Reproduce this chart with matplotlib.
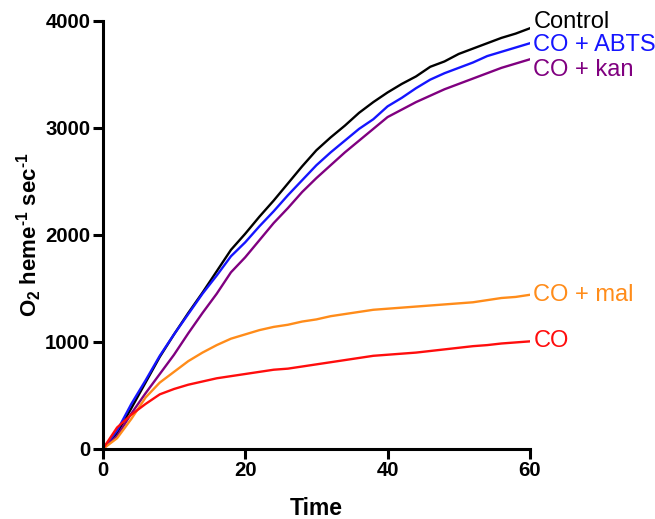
import numpy as np
import matplotlib.pyplot as plt

plt.rcParams['font.family'] = ['Liberation Sans', 'DejaVu Sans']
plt.rcParams['mathtext.fontset'] = 'custom'
plt.rcParams['mathtext.rm'] = 'Liberation Sans:bold'
plt.rcParams['mathtext.bf'] = 'Liberation Sans:bold'

# data: time points every 2 units
time = np.arange(0, 62, 2)
control = [0, 150, 380, 620, 860, 1070, 1270, 1460, 1660, 1860, 2010, 2170,
           2320, 2480, 2640, 2790, 2910, 3020, 3140, 3240, 3330, 3410, 3480,
           3570, 3620, 3690, 3740, 3790, 3840, 3880, 3930]
co_abts = [0, 170, 420, 640, 870, 1070, 1260, 1450, 1620, 1800, 1930, 2080,
           2220, 2370, 2510, 2650, 2770, 2880, 2990, 3080, 3200, 3280, 3370,
           3450, 3510, 3560, 3610, 3670, 3710, 3750, 3790]
co_kan = [0, 120, 330, 520, 700, 880, 1080, 1270, 1450, 1650, 1790, 1950,
          2110, 2250, 2400, 2530, 2650, 2770, 2880, 2990, 3100, 3170, 3240,
          3300, 3360, 3410, 3460, 3510, 3560, 3600, 3640]
co_mal = [0, 100, 280, 480, 620, 720, 820, 900, 970, 1030, 1070, 1110, 1140,
          1160, 1190, 1210, 1240, 1260, 1280, 1300, 1310, 1320, 1330, 1340,
          1350, 1360, 1370, 1390, 1410, 1420, 1440]
co = [0, 200, 320, 420, 510, 560, 600, 630, 660, 680, 700, 720, 740, 750, 770,
      790, 810, 830, 850, 870, 880, 890, 900, 915, 930, 945, 960, 970, 985,
      995, 1005]

series = [
    ('Control', control, 'black', 60),
    ('CO + ABTS', co_abts, '#1515ff', -20),
    ('CO + kan', co_kan, '#800080', -100),
    ('CO + mal', co_mal, '#ff8c1a', 0),
    ('CO', co, '#ff0d0d', 0),
]

fig = plt.figure(figsize=(6.55, 5.19), dpi=100)
ax = fig.add_axes([0.157, 0.135, 0.652, 0.825])

for name, vals, col, dy in series:
    ax.plot(time, vals, color=col, linewidth=1.7)
    ax.text(60.5, vals[-1] + dy, name, color=col, fontsize=17,
            va='center', ha='left', clip_on=False)

ax.set_xlim(0, 60)
ax.set_ylim(0, 4000)
ax.set_xticks([0, 20, 40, 60])
ax.set_yticks([0, 1000, 2000, 3000, 4000])
for lbl in ax.get_xticklabels() + ax.get_yticklabels():
    lbl.set_fontweight('bold')
ax.tick_params(labelsize=14.7, width=2.2, length=7, direction='out', pad=2)
for s in ['top', 'right']:
    ax.spines[s].set_visible(False)
for s in ['left', 'bottom']:
    ax.spines[s].set_linewidth(2.2)

ax.set_xlabel('Time', fontsize=16.5, fontweight='bold', labelpad=12)
ax.set_ylabel(r'$\mathbf{O_2}$ heme$^{\text{-}1}$ sec$^{\text{-}1}$',
              fontsize=16, fontweight='bold', labelpad=1)

plt.savefig('out.png')
